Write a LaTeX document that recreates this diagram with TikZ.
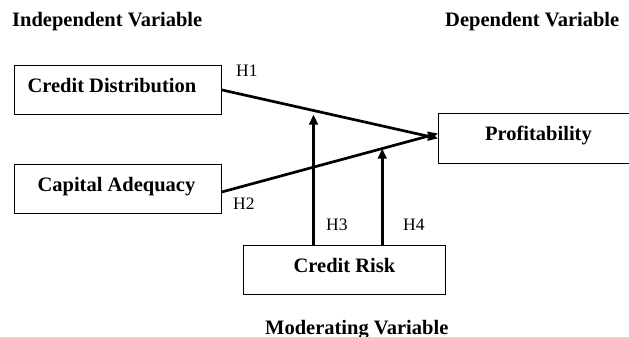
\documentclass[tikz,border=0pt]{standalone}
\usepackage{fontspec}
\setmainfont{Liberation Serif}
\usetikzlibrary{arrows.meta}
\begin{document}
\begin{tikzpicture}[x=1pt,y=-1pt,
  varbox/.style={draw, line width=0.9pt, anchor=north west, inner sep=0pt,
    minimum height=49pt, text height=16pt, text depth=11.8pt,
    font=\fontsize{20.5}{24}\selectfont\bfseries},
  headtext/.style={anchor=base west, inner sep=0pt, font=\fontsize{20.5}{24}\selectfont\bfseries},
  hyp/.style={anchor=base west, inner sep=0pt, font=\fontsize{17.5}{21}\selectfont},
  link/.style={line width=2.7pt, -{Triangle[length=10pt,width=8.5pt]}}]
\useasboundingbox (0,0) rectangle (629,337);
% headers
\node[headtext] (iv) at (12,27) {Independent Variable};
\node[headtext] (dv) at (445,27) {Dependent Variable};
\node[headtext] (mv) at (265,334) {Moderating Variable};
% boxes
\node[varbox, minimum width=207pt] (cd) at (14,65) {Credit Distribution\hspace*{12pt}};
\node[varbox, minimum width=207pt] (ca) at (14,164) {Capital Adequacy\hspace*{3pt}};
\node[varbox, minimum width=200pt, minimum height=50pt] (pr) at (438,113) {Profitability};
\node[varbox, minimum width=202pt] (cr) at (243,245) {Credit Risk};
% main arrows
\coordinate (p1) at ([yshift=0pt]pr.west);
\coordinate (p2) at ([yshift=5pt]pr.west);
\coordinate (s2) at ([yshift=-3pt]ca.east);
\draw[link] (cd.east) -- (p1) coordinate[pos=0.424] (m1);
\draw[link] (s2) -- (p2) coordinate[pos=0.742] (m2);
% moderating arrows
\draw[link, shorten >=4pt] (m1 |- cr.north) -- (m1);
\draw[link] (m2 |- cr.north) -- (m2);
% hypothesis labels
\node[hyp] (h1) at (236,77) {H1};
\node[hyp] (h2) at (233,209) {H2};
\node[hyp] (h3) at (326,230) {H3};
\node[hyp] (h4) at (403,230) {H4};
\end{tikzpicture}
\end{document}
